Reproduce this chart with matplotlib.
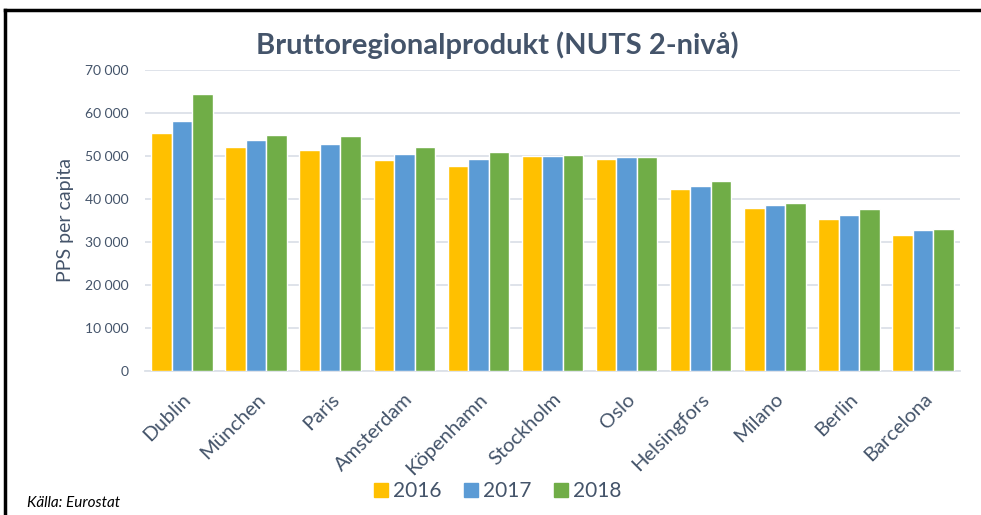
import numpy as np
import matplotlib
matplotlib.use("Agg")
import matplotlib.pyplot as plt
from matplotlib.ticker import FuncFormatter
from matplotlib.lines import Line2D

plt.rcParams['font.family'] = ['Lato', 'DejaVu Sans']

cities = ["Dublin", "München", "Paris", "Amsterdam", "Köpenhamn", "Stockholm",
          "Oslo", "Helsingfors", "Milano", "Berlin", "Barcelona"]
years = ["2016", "2017", "2018"]
pps_2016 = [55300, 52100, 51500, 49000, 47600, 50000, 49200, 42300, 37900, 35400, 31700]
pps_2017 = [58200, 53700, 52900, 50400, 49400, 50000, 49850, 43100, 38500, 36200, 32700]
pps_2018 = [64500, 54900, 54600, 52100, 50900, 50300, 49850, 44300, 39100, 37600, 33000]

colors = ["#FFC000", "#5B9BD5", "#70AD47"]
text_col = "#44546A"
grid_col = "#DCE1E8"

fig = plt.figure(figsize=(9.81, 5.15), dpi=100)
ax = fig.add_axes([145 / 981, 1 - 371 / 515, (960 - 145) / 981, (371 - 70) / 515])

x = np.arange(len(cities))
w = 0.277
for i, vals in enumerate([pps_2016, pps_2017, pps_2018]):
    ax.bar(x + (i - 1) * w, vals, width=w, color=colors[i], edgecolor="white",
           linewidth=1.0, zorder=3)

ax.set_xlim(-0.5, len(cities) - 0.5)
ax.set_ylim(0, 70000)
ax.set_yticks(np.arange(0, 70001, 10000))
ax.yaxis.set_major_formatter(FuncFormatter(lambda v, p: f"{int(v):,}".replace(",", " ")))
ax.grid(axis="y", color=grid_col, linewidth=1.3, zorder=0)
for s in ["top", "right", "left"]:
    ax.spines[s].set_visible(False)
ax.spines["bottom"].set_color(grid_col)
ax.spines["bottom"].set_linewidth(1.3)
ax.tick_params(axis="y", length=0, pad=12, labelsize=10, labelcolor=text_col)
ax.tick_params(axis="x", length=0, pad=14)
ax.set_xticks(x)
ax.set_xticklabels(cities, rotation=45, ha="right", va="top", rotation_mode="anchor",
                   fontsize=14.5, color=text_col)
ax.set_ylabel("PPS per capita", fontsize=14, color=text_col, labelpad=8)

fig.text(497 / 981, 1 - 45 / 515, "Bruttoregionalprodukt (NUTS 2-nivå)", ha="center",
         va="center", fontsize=21, fontweight="bold", color=text_col)

handles = [Line2D([], [], marker="s", linestyle="", markersize=10, color=c) for c in colors]
fig.legend(handles, years, loc="center", bbox_to_anchor=(497 / 981, 1 - 491 / 515),
           ncol=3, frameon=False, fontsize=15, labelcolor=text_col, handletextpad=0.2,
           columnspacing=1.0, handlelength=0.8)

fig.text(27 / 981, 1 - 503 / 515, "Källa: Eurostat", fontsize=11, style="italic",
         color="black", va="center", ha="left")

# frame lines (top + left)
fig.add_artist(Line2D([5 / 981, 5 / 981], [0, 1 - 10 / 515], color="black", lw=2.5,
                      transform=fig.transFigure))
fig.add_artist(Line2D([5 / 981, 980 / 981], [1 - 10 / 515, 1 - 10 / 515], color="black",
                      lw=2.5, transform=fig.transFigure))

fig.savefig("out.png", dpi=100)
